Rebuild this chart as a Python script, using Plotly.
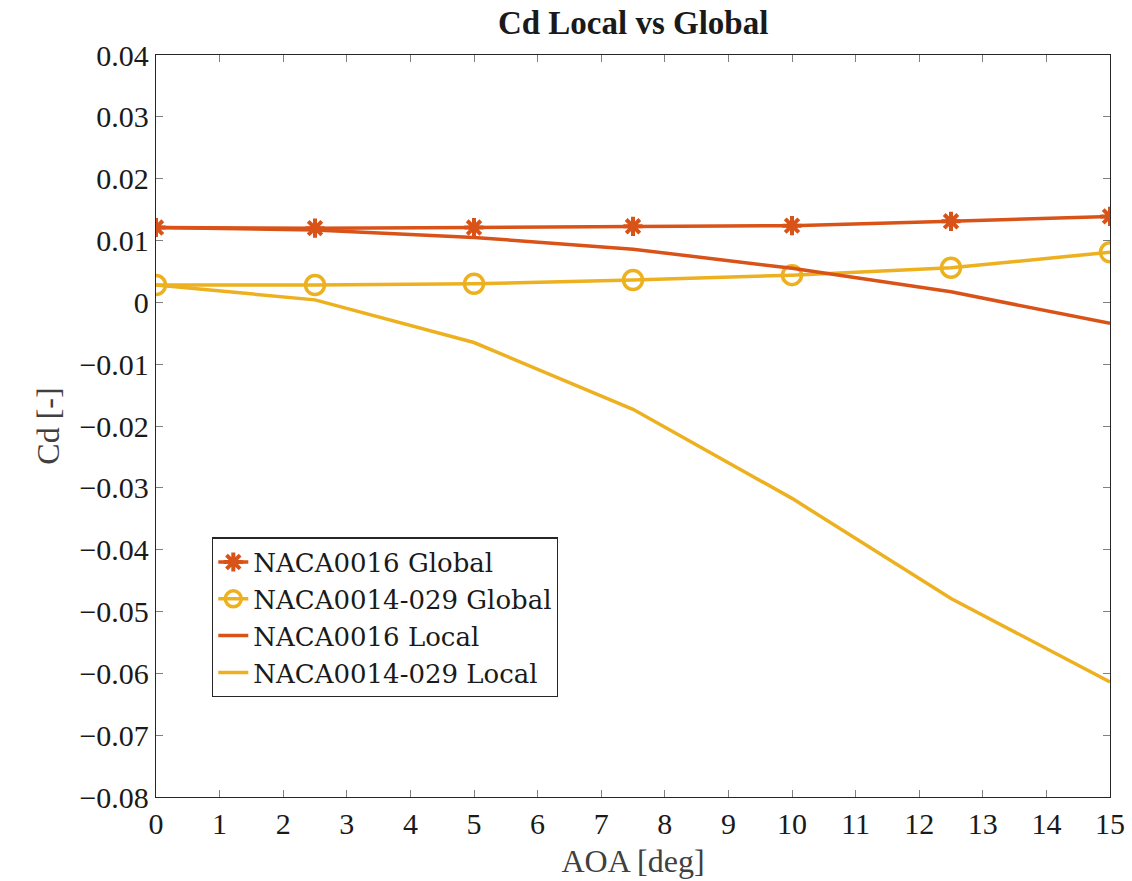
import plotly.graph_objects as go

aoa = [0, 2.5, 5, 7.5, 10, 12.5, 15]
naca0016_global = [0.0121, 0.0120, 0.0121, 0.0123, 0.0124, 0.0131, 0.0139]
naca0014_global = [0.0028, 0.0028, 0.0030, 0.0036, 0.0044, 0.0056, 0.0081]
naca0016_local = [0.0121, 0.0117, 0.0105, 0.0086, 0.0055, 0.0017, -0.0034]
naca0014_local = [0.0028, 0.0004, -0.0065, -0.0173, -0.0317, -0.0479, -0.0614]

x_ticks = list(range(0, 16))
y_ticks = [0.04, 0.03, 0.02, 0.01, 0, -0.01, -0.02, -0.03, -0.04, -0.05, -0.06, -0.07, -0.08]
y_tick_text = ["0.04", "0.03", "0.02", "0.01", "0", "\u22120.01", "\u22120.02", "\u22120.03",
               "\u22120.04", "\u22120.05", "\u22120.06", "\u22120.07", "\u22120.08"]

RED = "#D95319"
YEL = "#EDB120"
FONT = "Liberation Serif"

fig = go.Figure()
fig.add_trace(go.Scatter(
    x=aoa, y=naca0016_global, name="NACA0016 Global", mode="lines+markers",
    line=dict(color=RED, width=3.5),
    marker=dict(symbol="asterisk-open", size=16, color=RED, line=dict(color=RED, width=4)),
))
fig.add_trace(go.Scatter(
    x=aoa, y=naca0014_global, name="NACA0014-029 Global", mode="lines+markers",
    line=dict(color=YEL, width=3.5),
    marker=dict(symbol="circle-open", size=19, color=YEL, line=dict(color=YEL, width=3.5)),
))
fig.add_trace(go.Scatter(
    x=aoa, y=naca0016_local, name="NACA0016 Local", mode="lines",
    line=dict(color=RED, width=3.5),
))
fig.add_trace(go.Scatter(
    x=aoa, y=naca0014_local, name="NACA0014-029 Local", mode="lines",
    line=dict(color=YEL, width=3.5),
))

axis_common = dict(
    showgrid=False, zeroline=False, showline=True, linecolor="#262626", linewidth=1.3,
    mirror="ticks", ticks="inside", ticklen=7, tickcolor="#808080", tickwidth=1,
    tickfont=dict(family=FONT, size=30, color="#1a1a1a"), automargin=False,
)

fig.update_layout(
    width=1132, height=881,
    margin=dict(l=156, r=22, t=55, b=84),
    paper_bgcolor="white", plot_bgcolor="white",
    title=dict(text="<b>Cd Local vs Global</b>", x=0.5593, xanchor="center", y=0.975,
               yanchor="middle", font=dict(family=FONT, size=33, color="#1a1a1a"),
               automargin=False),
    xaxis=dict(range=[0, 15], tickvals=x_ticks,
               title=dict(text="AOA [deg]", font=dict(family=FONT, size=32, color="#404040"), standoff=10),
               **axis_common),
    yaxis=dict(range=[-0.08, 0.04], tickvals=y_ticks, ticktext=y_tick_text,
               title=dict(text="Cd [-]", font=dict(family=FONT, size=32, color="#404040"), standoff=10),
               **axis_common),
    legend=dict(x=0.0587, y=0.35, xanchor="left", yanchor="top",
                bgcolor="white", bordercolor="#262626", borderwidth=1.3,
                font=dict(family="DejaVu Serif", size=26, color="#1a1a1a"),
                tracegroupgap=0, itemwidth=30),
    showlegend=True,
)

fig.write_html("out.html")
